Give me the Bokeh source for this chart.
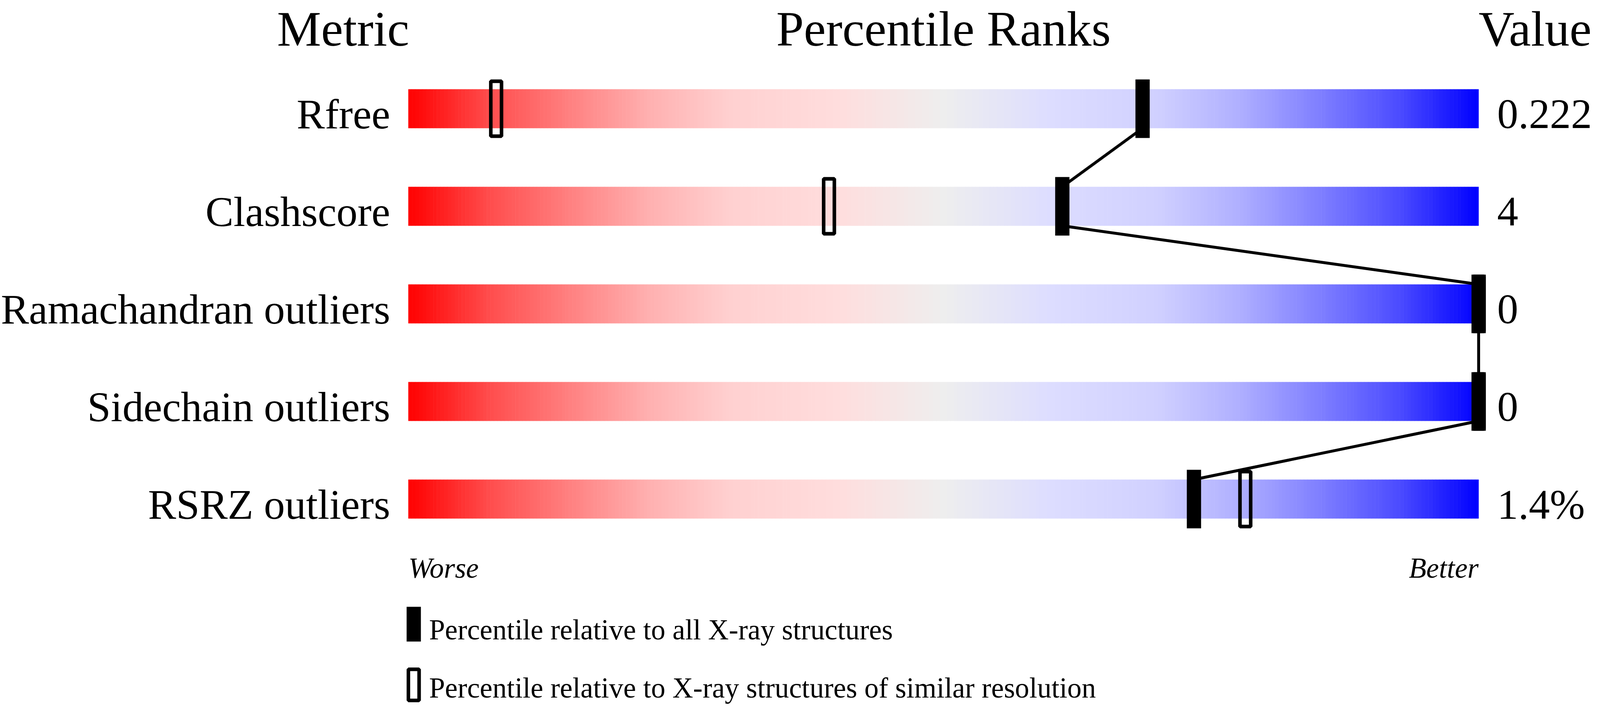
import numpy as np
from bokeh.plotting import figure
from bokeh.models import Range1d, ColumnDataSource
from bokeh.core.properties import value
from bokeh.embed import file_html
from bokeh.resources import INLINE

# ---------------- data ----------------
metrics = ["Rfree", "Clashscore", "Ramachandran outliers", "Sidechain outliers", "RSRZ outliers"]
metric_values = ["0.222", "4", "0", "0", "1.4%"]
pct_all = [68.6, 61.1, 100, 100, 73.4]        # percentile vs all X-ray structures
pct_similar = [8.2, 39.3, 100, 100, 78.2]     # percentile vs similar resolution
header_labels = ["Metric", "Percentile Ranks", "Value"]
scale_labels = ["Worse", "Better"]
legend_labels = ["Percentile relative to all X-ray structures",
                 "Percentile relative to X-ray structures of similar resolution"]

# gradient colour stops (fraction along bar, rgb)
grad_pos = [0.0, 0.075, 0.15, 0.225, 0.3, 0.4, 0.5, 0.6, 0.7, 0.775, 0.85, 0.925, 1.0]
grad_r = [255, 255, 255, 255, 255, 255, 238, 221, 208, 176, 128, 76, 0]
grad_g = [0, 76, 128, 176, 208, 221, 238, 221, 208, 176, 128, 76, 0]
grad_b = [0, 76, 128, 176, 208, 221, 238, 255, 255, 255, 255, 255, 255]

# ---------------- layout ----------------
# the page is ~4096 css px wide and 1824 tall; horizontal sizes are scaled by S
S = 4096.0 / 4485.0
W = 4088
H = 1808
PX_PER_PCT = 30.0 * S
PX_PER_ROW = 250.0
x0 = -(1153 * S - 8) / PX_PER_PCT
x1 = x0 + W / PX_PER_PCT
y_top = -(286 - 8) / PX_PER_ROW
y_bot = y_top + H / PX_PER_ROW
BASE_SHIFT = 0.33   # measured baseline correction (em)


def cx(px):
    return x0 + (px * S - 8) / PX_PER_PCT


def cy(py):
    return y_top + (py - 8) / PX_PER_ROW


FONT = value("Liberation Serif")
BAR_H = 0.4
LW = 10 * S

p = figure(width=W, height=H, x_range=Range1d(x0, x1), y_range=Range1d(y_bot, y_top),
           output_backend="svg", toolbar_location=None, min_border=0,
           x_axis_location=None, y_axis_location=None)
p.grid.visible = False
p.outline_line_color = None
p.background_fill_color = "white"
p.border_fill_color = "white"


def label(x, y, txt, size, align, italic=False):
    f = size * S
    p.text(x=x, y=y, text=txt, text_font=FONT, text_font_size=value("%.1fpx" % f),
           text_font_style="italic" if italic else "normal", text_align=align,
           text_baseline="alphabetic", text_color="black", y_offset=-BASE_SHIFT * f)


rows = list(range(len(metrics)))

# gradient bars
N = 300
fr = (np.arange(N) + 0.5) / N
r = np.interp(fr, grad_pos, grad_r)
g = np.interp(fr, grad_pos, grad_g)
b = np.interp(fr, grad_pos, grad_b)
cols = ["#%02x%02x%02x" % (int(round(a)), int(round(bb)), int(round(c))) for a, bb, c in zip(r, g, b)]
sx, sy, sc = [], [], []
for i in rows:
    sx.extend(list(fr * 100))
    sy.extend([i] * N)
    sc.extend(cols)
strips = ColumnDataSource(dict(x=sx, y=sy, c=sc))
p.rect(x="x", y="y", width=100.0 / N * 1.06, height=BAR_H, fill_color="c",
       line_color=None, source=strips)

# hollow markers (similar resolution)
p.rect(x=pct_similar, y=rows, width=40 * S - LW, height=150 - LW, width_units="screen",
       height_units="screen", fill_color=None, line_color="black", line_width=LW)

# connecting lines between filled markers
p.segment(x0=pct_all[:-1], y0=[i + BAR_H / 2 for i in rows[:-1]],
          x1=pct_all[1:], y1=[i + 1 - BAR_H / 2 for i in rows[:-1]],
          line_color="black", line_width=7.5)

# filled markers (all X-ray)
p.rect(x=pct_all, y=rows, width=40 * S, height=150, width_units="screen",
       height_units="screen", fill_color="black", line_color=None)

# row labels and values
label([cx(1102)] * len(rows), [i + BAR_H / 2 for i in rows], metrics, 118, "right")
label([cx(4205)] * len(rows), [i + BAR_H / 2 for i in rows], metric_values, 118, "left")

# headers (kept just inside the top edge)
HEAD_BASE = 123
label([cx(970)], [cy(HEAD_BASE)], [header_labels[0]], 139, "center")
label([50], [cy(HEAD_BASE)], [header_labels[1]], 139, "center")
label([cx(4153)], [cy(HEAD_BASE)], [header_labels[2]], 139, "left")

# worse / better
label([0], [cy(1487)], [scale_labels[0]], 80, "left", italic=True)
label([100], [cy(1487)], [scale_labels[1]], 80, "right", italic=True)

# legend
p.rect(x=[cx(1168)], y=[cy(1606.5)], width=40 * S, height=89, width_units="screen",
       height_units="screen", fill_color="black", line_color=None)
p.rect(x=[cx(1168)], y=[cy(1762)], width=40 * S - LW, height=89 - LW, width_units="screen",
       height_units="screen", fill_color=None, line_color="black", line_width=LW)
label([cx(1211)] * 2, [cy(1645), cy(1794)], legend_labels, 80, "left")

open("out.html", "w").write(file_html(p, INLINE))
